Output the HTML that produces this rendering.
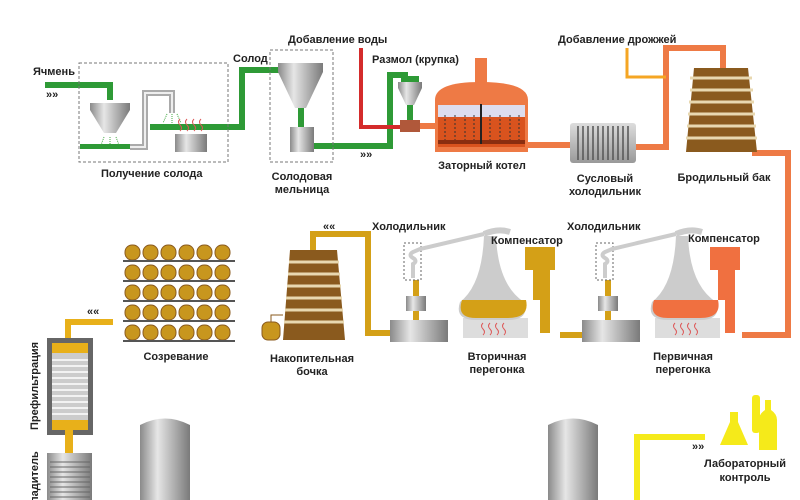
<!DOCTYPE html>
<html><head><meta charset="utf-8"><style>
html,body{margin:0;padding:0;background:#fff;width:800px;height:500px;overflow:hidden}
text{font-family:"Liberation Sans","DejaVu Sans",sans-serif;font-weight:bold;font-size:11px;fill:#222}
</style></head><body>
<svg width="800" height="500" viewBox="0 0 800 500" xmlns="http://www.w3.org/2000/svg">
<defs>
<linearGradient id="g" x1="0" x2="1"><stop offset="0" stop-color="#8a8a8a"/><stop offset=".35" stop-color="#e6e6e6"/><stop offset="1" stop-color="#7a7a7a"/></linearGradient>
<linearGradient id="gv" x1="0" y1="0" x2="0" y2="1"><stop offset="0" stop-color="#ddd"/><stop offset="1" stop-color="#999"/></linearGradient>
</defs>
<g fill="none" stroke="#2e9a36" stroke-width="6">
<path d="M45 85 H110 V100"/>
<path d="M150 127 H242 V70 H292"/>
<path d="M313 146 H390 V75 H408"/>
</g>
<rect x="80" y="144" width="50" height="5" fill="#2e9a36"/>
<path d="M130 147 H145 V93 H172 V113" fill="none" stroke="#aaa" stroke-width="6"/>
<path d="M130 147 H145 V93 H172 V113" fill="none" stroke="#eee" stroke-width="2"/>
<rect x="79" y="63" width="149" height="99" fill="none" stroke="#777" stroke-dasharray="3,2"/>
<rect x="270" y="50" width="63" height="112" fill="none" stroke="#777" stroke-dasharray="3,2"/>
<path d="M90 103 H130 V110 L116 133 H104 L90 110Z" fill="url(#g)"/>
<path d="M104 137 l-3 8 M110 137 v8 M116 137 l3 8 M167 114 l-4 9 M172 114 v9 M177 114 l4 9" stroke="#4a4" stroke-width="1" stroke-dasharray="1,1"/>
<path d="M180 131 q3 -3 0 -6 q-3 -3 0 -6 M187 131 q3 -3 0 -6 q-3 -3 0 -6 M194 131 q3 -3 0 -6 q-3 -3 0 -6 M201 131 q3 -3 0 -6 q-3 -3 0 -6" stroke="#d55" fill="none"/>
<rect x="175" y="134" width="32" height="18" fill="url(#g)"/>
<path d="M278 63 H323 V72 L306 108 H295 L278 72Z" fill="url(#g)"/>
<rect x="298" y="108" width="6" height="20" fill="#2e9a36"/>
<rect x="290" y="127" width="24" height="25" fill="url(#g)"/>
<path d="M361 48 V127 H408" fill="none" stroke="#d42b2b" stroke-width="4"/>
<path d="M398 82 H422 V88 L414 105 H406 L398 88Z" fill="url(#g)"/>
<rect x="401" y="76" width="18" height="6" fill="#2e9a36"/>
<rect x="407" y="105" width="6" height="15" fill="#2e9a36"/>
<rect x="400" y="120" width="20" height="12" fill="#b0583a"/>
<g fill="none" stroke="#ee7a45" stroke-width="6">
<path d="M420 126 H436"/>
<path d="M528 145 H572"/>
<path d="M636 147 H666 V48 H723 V68"/>
<path d="M752 153 H788 V335 H742"/>
</g>
<path d="M627 48 V77 H666" fill="none" stroke="#f5a623" stroke-width="3"/>
<rect x="475" y="58" width="12" height="26" fill="#ee7a45"/>
<path d="M435 100 Q435 82 480 82 Q528 82 528 100 V152 H435Z" fill="#ee7a45"/>
<rect x="438" y="105" width="87" height="12" fill="#dde"/>
<rect x="438" y="117" width="87" height="30" fill="#d9531e"/>
<rect x="438" y="140" width="87" height="4" fill="#8a2e10"/>
<rect x="480" y="104" width="2" height="40" fill="#222"/>
<g stroke="#333" fill="none" stroke-width="1"><path d="M445 115 v25 M455 115 v25 M465 115 v25 M474 115 v25 M490 115 v25 M500 115 v25 M510 115 v25 M519 115 v25" stroke-dasharray="2,2"/></g>
<rect x="570" y="123" width="66" height="40" rx="3" fill="url(#gv)"/>
<g stroke="#555" stroke-width="1.5"><path d="M578 126v34M583 126v34M588 126v34M593 126v34M598 126v34M603 126v34M608 126v34M613 126v34M618 126v34M623 126v34M628 126v34"/></g>
<path d="M694 68 H748 L757 152 H686Z" fill="#8a5a1e"/>
<g stroke="#e8d8b0" stroke-width="3"><path d="M690 78H752M690 90H753M689 102H754M688 114H755M687 126H756M686 138H757"/></g>
<path d="M390 333 H368 V234 H313 V250" fill="none" stroke="#d4a017" stroke-width="6"/>
<path d="M560 335 H582" fill="none" stroke="#d4a017" stroke-width="6"/>
<path d="M290 250 H337 L345 340 H283Z" fill="#8a5a1e"/>
<g stroke="#e8d8b0" stroke-width="3"><path d="M289 262H339M288 274H340M287 286H341M286 298H342M285 310H343M284 322H344"/></g>
<rect x="262" y="322" width="18" height="18" rx="6" fill="#c8961e" stroke="#8a5a1e"/>
<path d="M271 322 V315 H283" stroke="#8a5a1e" fill="none"/>
<g id="s">
<rect x="582" y="320" width="58" height="22" fill="url(#g)"/>
<rect x="598" y="296" width="20" height="15" fill="url(#g)"/>
<rect x="605" y="280" width="6" height="16" fill="#d4a017"/><rect x="605" y="311" width="6" height="9" fill="#d4a017"/>
<rect x="596" y="243" width="17" height="37" fill="none" stroke="#666" stroke-dasharray="2,2"/>
<path d="M605 278 V264 q5 -3 0 -6 q-5 -3 0 -6 L612 249 L676 234" fill="none" stroke="#ccc" stroke-width="4"/>
<path d="M676 234 Q690 228 702 232" fill="none" stroke="#ccc" stroke-width="6"/>
<rect x="655" y="318" width="65" height="20" fill="#ddd"/>
<path d="M675 335 q3-3 0-6 q-3-3 0-6 M682 335 q3-3 0-6 q-3-3 0-6 M689 335 q3-3 0-6 q-3-3 0-6 M696 335 q3-3 0-6 q-3-3 0-6" stroke="#d55" fill="none"/>
<path d="M676 236 L688 236 Q690 285 716 302 Q722 320 700 320 H668 Q646 320 652 302 Q674 285 676 236Z" fill="#ccc"/>
</g>
<path d="M654 300 H718 Q722 318 700 318 H668 Q648 318 654 300Z" fill="#f07040"/>
<path d="M710 247 H740 V270 H735 V333 H725 V300 H718 V270 H710Z" fill="#f07040"/>
<use href="#s" x="-192"/>
<path d="M462 300 H526 Q530 318 508 318 H476 Q456 318 462 300Z" fill="#d4a017"/>
<path d="M525 247 H555 V270 H550 V333 H540 V300 H533 V270 H525Z" fill="#d4a017"/>
<g id="br"><g fill="#c8961e" stroke="#8a5a1e" stroke-width="1">
<rect x="125" y="245" width="15" height="15" rx="7"/><rect x="143" y="245" width="15" height="15" rx="7"/><rect x="161" y="245" width="15" height="15" rx="7"/><rect x="179" y="245" width="15" height="15" rx="7"/><rect x="197" y="245" width="15" height="15" rx="7"/><rect x="215" y="245" width="15" height="15" rx="7"/></g>
<rect x="123" y="260" width="112" height="2" fill="#555"/></g>
<use href="#br" y="20"/><use href="#br" y="40"/><use href="#br" y="60"/><use href="#br" y="80"/>
<path d="M113 322 H68 V345" fill="none" stroke="#e8b01a" stroke-width="6"/>
<rect x="47" y="338" width="46" height="97" fill="#666"/>
<rect x="52" y="343" width="36" height="87" fill="#ccc"/>
<g stroke="#fff" stroke-width="1.5"><path d="M52 360H88M52 366H88M52 372H88M52 378H88M52 384H88M52 390H88M52 396H88M52 402H88M52 408H88M52 414H88"/></g>
<rect x="52" y="343" width="36" height="10" fill="#e8b01a"/><rect x="52" y="420" width="36" height="10" fill="#e8b01a"/>
<rect x="65" y="430" width="8" height="23" fill="#e8b01a"/>
<rect x="47" y="453" width="45" height="47" fill="url(#g)"/>
<g stroke="#666"><path d="M50 462H90M50 467H90M50 472H90M50 477H90M50 482H90M50 487H90M50 492H90M50 497H90"/></g>
<path d="M140 500 V425 Q165 412 190 425 V500Z" fill="url(#g)"/>
<path d="M548 500 V425 Q573 412 598 425 V500Z" fill="url(#g)"/>
<path d="M637 500 V437 H705" fill="none" stroke="#f5ea1a" stroke-width="6"/>
<path d="M730 412 h8 v10 l10 23 h-28 l10 -23Z" fill="#f5ea1a"/>
<rect x="752" y="395" width="8" height="38" rx="3" fill="#f5ea1a"/>
<path d="M765 400 h6 v10 q6 4 6 10 v30 h-18 v-30 q0 -6 6 -10Z" fill="#f5ea1a"/>
<g style="font-size:7px;font-weight:normal" fill="#333">
<text x="46" y="98">»»</text><text x="360" y="158">»»</text><text x="692" y="450">»»</text>
<text x="87" y="315">««</text><text x="323" y="230">««</text></g>
<text x="33" y="75">Ячмень</text>
<text x="233" y="62">Солод</text>
<text x="288" y="43">Добавление воды</text>
<text x="372" y="63">Размол (крупка)</text>
<text x="558" y="43">Добавление дрожжей</text>
<text x="101" y="177">Получение солода</text>
<text x="302" y="180" text-anchor="middle">Солодовая</text>
<text x="302" y="193" text-anchor="middle">мельница</text>
<text x="482" y="169" text-anchor="middle">Заторный котел</text>
<text x="605" y="182" text-anchor="middle">Сусловый</text>
<text x="605" y="195" text-anchor="middle">холодильник</text>
<text x="724" y="181" text-anchor="middle">Бродильный бак</text>
<text x="372" y="230">Холодильник</text>
<text x="567" y="230">Холодильник</text>
<text x="491" y="244">Компенсатор</text>
<text x="688" y="242">Компенсатор</text>
<text x="312" y="362" text-anchor="middle">Накопительная</text>
<text x="312" y="375" text-anchor="middle">бочка</text>
<text x="497" y="360" text-anchor="middle">Вторичная</text>
<text x="497" y="373" text-anchor="middle">перегонка</text>
<text x="683" y="360" text-anchor="middle">Первичная</text>
<text x="683" y="373" text-anchor="middle">перегонка</text>
<text x="176" y="360" text-anchor="middle">Созревание</text>
<text x="745" y="467" text-anchor="middle">Лабораторный</text>
<text x="745" y="481" text-anchor="middle">контроль</text>
<text transform="translate(38,430) rotate(-90)">Префильтрация</text>
<text transform="translate(38,518) rotate(-90)">Охладитель</text>
</svg>
</body></html>
